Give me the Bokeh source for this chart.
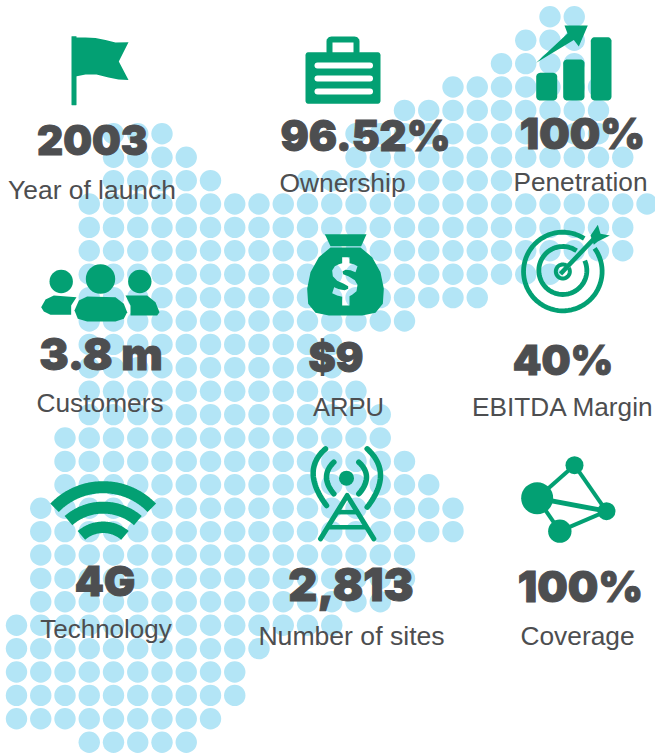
import numpy as np
from bokeh.core.properties import value
from bokeh.embed import file_html
from bokeh.models import ColumnDataSource, Range1d
from bokeh.plotting import figure
from bokeh.resources import INLINE

# --- chart content -------------------------------------------------------
VALUES = ["2003", "96.52%", "100%", "3.8 m", "$9", "40%", "4G", "2,813", "100%"]
LABELS = ["Year of launch", "Ownership", "Penetration", "Customers", "ARPU",
          "EBITDA Margin", "Technology", "Number of sites", "Coverage"]

# dot map: per grid row, the (first, last) grid columns that hold a dot
DOT_ROWS = [
    [(22, 23)], [(21, 23)], [(20, 23)], [(18, 24)], [(16, 24)],
    [(4, 6), (14, 24)], [(4, 7), (14, 25)], [(4, 8), (12, 20)],
    [(3, 26)], [(3, 25)], [(3, 25)], [(3, 22)], [(3, 19)], [(3, 16)],
    [(3, 13)], [(3, 13)], [(3, 14)], [(3, 15)], [(2, 15)], [(2, 16)],
    [(2, 17)], [(1, 18)], [(1, 18)], [(1, 16)], [(1, 16)], [(1, 15)],
    [(0, 13)], [(0, 10)], [(0, 9)], [(0, 9)], [(0, 8)], [(3, 7)],
]

# --- layout --------------------------------------------------------------
VALUE_X = [92, 365, 582, 100.5, 335.5, 562.5, 104.5, 350.5, 580]
VALUE_Y = [139.5, 134.5, 132, 353, 356, 359, 580, 584, 585]
VALUE_SIZE = ["40.5px", "42px", "43px", "44px", "41px", "41px", "41.5px", "45px", "43px"]
LABEL_X = [91.5, 342, 580, 99.5, 348, 562.5, 105.5, 351, 577]
LABEL_Y = [189, 182, 181, 402.5, 406.5, 406.5, 628, 635, 635]
LABEL_SIZE = ["26.4px", "26.4px", "26.2px", "26.3px", "25.6px", "26.2px", "26px", "26.6px", "26.3px"]

GREEN = "#03A073"
BLUE = "#B3E5F6"
INK = "#4D4E50"


def Z(points, ox, oy):
    a = np.array(points, dtype=float)
    return list(ox + a[:, 0] / 3), list(oy + a[:, 1] / 3)


def rrect(x0, y0, x1, y1, r):
    t = np.linspace(0, np.pi / 2, 8)
    xs = np.r_[x1 - r + r * np.sin(t), x1 - r + r * np.cos(t), x0 + r - r * np.sin(t), x0 + r - r * np.cos(t)]
    ys = np.r_[y0 + r - r * np.cos(t), y1 - r + r * np.sin(t), y1 - r + r * np.cos(t), y0 + r - r * np.sin(t)]
    return list(xs), list(ys)


def arc(cx, cy, r, a0, a1):
    t = np.radians(np.linspace(a0, a1, 70))
    return list(cx + r * np.cos(t)), list(cy - r * np.sin(t))


def bend(a, m, c):
    """Curve from a through m to c."""
    a, m, c = map(np.array, (a, m, c))
    q = 2 * m - (a + c) / 2
    t = np.linspace(0, 1, 30)[:, None]
    pts = (1 - t) ** 2 * a + 2 * t * (1 - t) * q + t ** 2 * c
    return list(pts[:, 0]), list(pts[:, 1])


p = figure(width=655, height=755, x_range=Range1d(0, 655), y_range=Range1d(755, 0),
           toolbar_location=None, output_backend="svg", min_border=0,
           outline_line_color=None, background_fill_color="white")
p.axis.visible = False
p.grid.visible = False

# dots
dx, dy, x0, y0 = 24.25, 23.4, 16.0, 16.3
dot_x, dot_y = [], []
for row, spans in enumerate(DOT_ROWS):
    for first, last in spans:
        for col in range(first, last + 1):
            dot_x.append(x0 + dx * col)
            dot_y.append(y0 + dy * row)
p.scatter(dot_x, dot_y, size=21.4, fill_color=BLUE, line_color=None)


def fill(xs, ys, color=GREEN):
    p.patch(xs, ys, fill_color=color, line_color=None)


def disc(x, y, r):
    p.scatter([x], [y], size=2 * r, fill_color=GREEN, line_color=None)


def stroke(xs, ys, w, cap="round", color=GREEN):
    p.line(xs, ys, line_color=color, line_width=w, line_cap=cap, line_join="round")


# flag
fill(*rrect(71, 35.7, 76, 104.7, 0.5))
fill([75, 85, 95, 105, 115, 128, 118.3, 128, 118, 108, 96, 85, 75],
     [37, 37, 37.5, 39.5, 42, 41.7, 61, 79.5, 79, 77, 74, 74, 76])

# briefcase
fill(*rrect(305, 51.7, 380, 103.3, 3))
fill(*rrect(326, 36, 359, 56, 5))
p.quad(left=[332], right=[353], top=[42], bottom=[51.7], fill_color="white", line_color=None)
for sy in (65, 78, 91):
    stroke([317, 369.5], [sy, sy], 6, color="white")

# rising bars
fill(*rrect(535.7, 72.3, 556.7, 100, 4))
fill(*rrect(562.7, 59, 584, 100, 4))
fill(*rrect(590.3, 36.7, 611, 100, 4))
fill([535.7, 567, 564, 587.3, 578.3, 573.3], [62.3, 33, 25, 25, 46, 39.5])

# people
disc(100, 278.5, 14.7)
disc(60.7, 281, 11.7)
disc(139.3, 281, 11.7)
fill(*Z([(222, 180), (235, 150), (260, 138), (345, 140), (370, 160), (380, 185), (370, 205),
         (345, 213), (260, 213), (232, 205)], 0, 250))
fill(*Z([(122, 170), (135, 147), (160, 135), (228, 140), (212, 165), (212, 193), (150, 193),
         (130, 183)], 0, 250))
fill(*Z([(375, 135), (440, 135), (465, 155), (477, 185), (470, 195), (390, 195), (390, 165)], 0, 250))

# money bag, with its dollar sign cut out
fill(*Z([(88, 26), (213, 26), (197, 62), (105, 62)], 295, 225))
bag_x, bag_y = Z([(105, 66), (70, 95), (45, 140), (35, 190), (38, 235), (60, 262), (100, 270),
                  (200, 270), (240, 262), (262, 235), (265, 190), (255, 140), (230, 95),
                  (195, 66)], 295, 225)
sign_x, sign_y = Z([(140, 95), (162, 95), (162, 113), (175, 116), (186, 122), (180, 140), (165, 134),
                    (150, 133), (141, 138), (143, 146), (160, 153), (178, 164), (186, 178),
                    (183, 197), (170, 208), (162, 212), (162, 240), (140, 240), (140, 214),
                    (125, 210), (110, 203), (116, 185), (130, 191), (148, 194), (158, 190),
                    (158, 182), (145, 175), (125, 166), (112, 152), (110, 135), (118, 122),
                    (130, 116), (140, 113)], 295, 225)
p.multi_polygons(xs=[[[bag_x, sign_x]]], ys=[[[bag_y, sign_y]]], fill_color=GREEN, line_color=None)

# target
tcx, tcy = 510 + 157 / 3, 215 + 168 / 3
stroke(*arc(tcx, tcy, 39.3, 57, 396), 4.8, "butt")
stroke(*arc(tcx, tcy - 1, 24, 55, 384), 4.8, "butt")
stroke(*arc(tcx, tcy, 7, 60, 390), 4, "butt")
sx, sy = Z([(150, 175), (255, 65)], 510, 215)
stroke(sx, sy, 4.5, "butt")
fill(*Z([(240, 60), (262, 28), (270, 55), (298, 60), (262, 78), (250, 88)], 510, 215))

# wi-fi
wx = 40 + 188 / 3
stroke(*arc(wx, 470 + 253 / 3, 203 / 3, 44, 136), 12, "butt")
stroke(*arc(wx, 470 + 270 / 3, 158.6 / 3, 49, 131), 12, "butt")
stroke(*arc(wx, 470 + 270 / 3, 99.6 / 3, 49, 131), 11.5, "butt")

# tower
disc(300 + 138 / 3, 440 + 113 / 3, 7.5)
for a, m, c, w in [((75, 25), (38, 100), (78, 195), 5.5), ((200, 25), (240, 105), (200, 200), 5.5),
                   ((100, 65), (78, 110), (100, 160), 5.5), ((175, 65), (198, 110), (175, 160), 5.5)]:
    a2 = (300 + a[0] / 3, 440 + a[1] / 3)
    m2 = (300 + m[0] / 3, 440 + m[1] / 3)
    c2 = (300 + c[0] / 3, 440 + c[1] / 3)
    stroke(*bend(a2, m2, c2), w)
stroke(*Z([(60, 295), (140, 165), (220, 295)], 300, 440), 5)
stroke(*Z([(112, 215), (168, 215)], 300, 440), 4.5, "butt")
stroke(*Z([(85, 260), (195, 260)], 300, 440), 4.5, "butt")

# network
nodes = {"big": (620, 203), "top": (732, 104), "right": (828, 242), "low": (688, 302)}
for a, b, w in [("big", "top", 4), ("top", "right", 4), ("big", "right", 5), ("right", "low", 4), ("big", "low", 4)]:
    stroke(*Z([nodes[a], nodes[b]], 330, 430), w, "butt")
for n, r in [("big", 16), ("top", 9), ("right", 9), ("low", 11.7)]:
    disc(330 + nodes[n][0] / 3, 430 + nodes[n][1] / 3, r)

# texts
big = ColumnDataSource(dict(x=VALUE_X, y=VALUE_Y, t=VALUES, s=VALUE_SIZE))
p.text("x", "y", text="t", source=big, text_font=value("Inter Black"), text_font_style="normal",
       text_font_size="s", text_color=INK, text_outline_color=INK,
       text_align="center", text_baseline="alphabetic")
small = ColumnDataSource(dict(x=LABEL_X, y=LABEL_Y, t=LABELS, s=LABEL_SIZE))
p.text("x", "y", text="t", source=small, text_font=value("Liberation Sans"),
       text_font_size="s", text_color=INK, text_align="center", text_baseline="alphabetic")

open("out.html", "w").write(file_html(p, INLINE))
